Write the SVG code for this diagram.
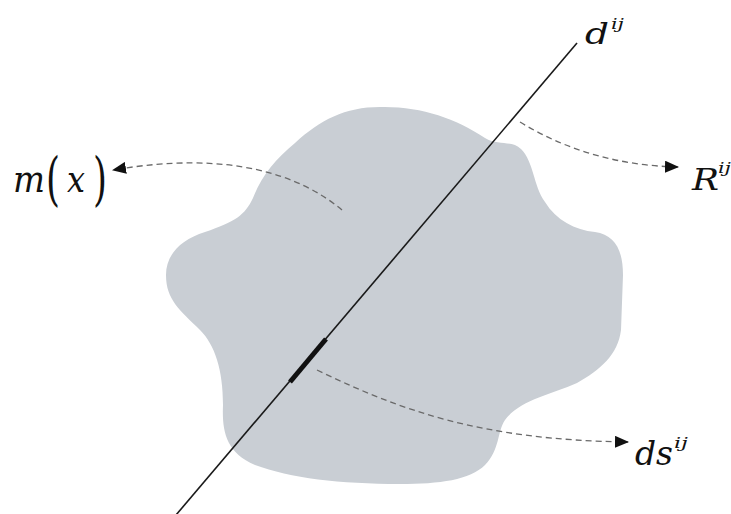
<svg xmlns="http://www.w3.org/2000/svg" width="731" height="514" viewBox="0 0 731 514">
  <style>
    .dash { fill: none; stroke: #6a6a6a; stroke-width: 1.3; stroke-dasharray: 6 4; }
  </style>
  <defs>
    <marker id="arr" viewBox="0 0 14 12" refX="13" refY="6" markerWidth="14" markerHeight="12" markerUnits="userSpaceOnUse" orient="auto">
      <path d="M0,0 L14,6 L0,12 z" fill="#111"/>
    </marker>
  </defs>
  <rect width="731" height="514" fill="#ffffff"/>

  <g id="body">
    <path fill="#c9ced4" d="M380,107 C420,106 455,118 485,138 C498,146 512,140 521,149 C534,162 533,185 545,202 C556,220 575,230 595,232 C615,235 623,250 623,275 L621,330 C618,355 600,370 577,383 C550,395 520,400 505,420 C497,432 500,450 485,465 C470,480 440,484 400,484 C340,484 290,478 255,465 C225,452 222,430 223,405 C223,370 215,345 200,330 C180,310 166,300 166,275 C166,255 180,240 205,232 C235,222 245,215 253,198 C262,175 275,160 295,143 C320,120 345,107 380,107 Z"/>
  </g>

  <g id="ray">
    <line x1="577" y1="43" x2="176" y2="515" stroke="#1a1a1a" stroke-width="1.6"/>
    <line id="segment" x1="326" y1="339" x2="290" y2="382" stroke="#111" stroke-width="5"/>
  </g>

  <g id="connectors">
    <path class="dash" d="M342,210 C300,175 230,150 113,170" marker-end="url(#arr)"/>
    <path class="dash" d="M520,122 Q590,165 678,167" marker-end="url(#arr)"/>
    <path class="dash" d="M317,370 C400,410 480,440 628,442" marker-end="url(#arr)"/>
  </g>

  <g id="label-m" font-family="DejaVu Serif, serif" fill="#111">
    <text x="13" y="192" font-size="37"><tspan font-style="italic" textLength="32" lengthAdjust="spacingAndGlyphs">m</tspan><tspan x="46" y="199" font-size="58" textLength="14" lengthAdjust="spacingAndGlyphs">(</tspan><tspan x="67" y="192" font-style="italic" textLength="18" lengthAdjust="spacingAndGlyphs">x</tspan><tspan x="93" y="199" font-size="58" textLength="14" lengthAdjust="spacingAndGlyphs">)</tspan></text>
  </g>

  <g id="label-d" font-family="DejaVu Serif, serif" font-style="italic" fill="#111">
    <text x="585" y="44" font-size="30"><tspan textLength="24" lengthAdjust="spacingAndGlyphs">d</tspan><tspan x="611" y="29" font-size="15" textLength="13" lengthAdjust="spacingAndGlyphs">ij</tspan></text>
  </g>

  <g id="label-R" font-family="DejaVu Serif, serif" font-style="italic" fill="#111">
    <text x="692" y="190" font-size="30"><tspan textLength="27" lengthAdjust="spacingAndGlyphs">R</tspan><tspan x="718" y="173" font-size="15" textLength="13" lengthAdjust="spacingAndGlyphs">ij</tspan></text>
  </g>

  <g id="label-ds" font-family="DejaVu Serif, serif" font-style="italic" fill="#111">
    <text x="635" y="465" font-size="33"><tspan textLength="38" lengthAdjust="spacingAndGlyphs">ds</tspan><tspan x="674" y="448" font-size="15" textLength="14" lengthAdjust="spacingAndGlyphs">ij</tspan></text>
  </g>
</svg>
